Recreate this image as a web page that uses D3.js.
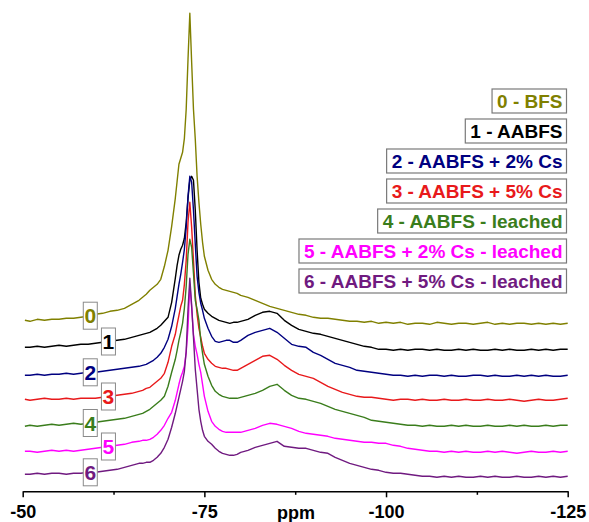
<!DOCTYPE html>
<html>
<head>
<meta charset="utf-8">
<script src="https://cdn.jsdelivr.net/npm/d3@7"></script>
<style>
body { margin: 0; background: #fff; }
text { font-family: "Liberation Sans", Arial, sans-serif; font-weight: bold; }
</style>
</head>
<body>
<script>
var width = 589, height = 522;

// chemical shift grid (ppm), finer around the main peak
var ppm = [-50.3,-51,-52,-53,-54,-55,-56,-57,-58,-59,-60,-61,-62,-63,-64,-65,-66,
  -66.5,-67,-67.5,-68,-68.5,-69,-69.5,-70,-70.5,-71,
  -71.25,-71.5,-71.75,-72,-72.25,-72.5,-72.75,-73,-73.25,-73.5,-73.75,-74,-74.25,-74.5,-74.75,-75,
  -75.5,-76,-76.5,-77,-77.5,-78,-78.5,-79,-79.5,-80,
  -81,-82,-83,-84,-85,-86,-87,-88,-89,-90,-91,-92,-93,-94,-95,-96,-97,-98,-99,-100,
  -101,-102,-103,-104,-105,-106,-107,-108,-109,-110,-111,-112,-113,-114,-115,-116,-117,-118,-119,-120,
  -121,-122,-123,-124,-125];

// intensities (arbitrary units)
var s0 = [4,3,5,4,5,5,6,6,7,8,10,11,13,14,16,20,24,
  27,30,34,37,40,45,58,74,98,126,
  143,160,166,172,186,215,265,311,262,215,185,148,122,100,82,68,
  54,45,40,37,35,34,33,32,31,29,
  27,24,21,18,16,14,12,10,9,7,6,6,5,4,3,3,2,3,1,2,1,2,0,1,1,0,2,1,0,1,1,0,1,2,0,1,0,1,1,0,1,0,1,0,1];
var s1 = [3,3,4,3,4,5,4,5,6,6,7,8,9,10,11,13,15,
  16,17,18,20,22,25,29,33,48,72,
  85,95,101,105,112,128,152,170,174,170,140,100,68,52,46,41,
  37,34,32,30,29,28,27,28,28,29,
  31,35,38,39,37,30,25,21,19,17,16,14,12,10,8,6,4,3,1,1,0,1,0,1,1,0,1,0,0,1,0,1,0,0,1,0,1,0,0,1,0,1,0,1,1];
var s2 = [1,1,2,1,2,2,3,2,3,4,4,5,6,7,8,9,10,
  11,12,14,16,19,23,29,37,50,68,
  80,92,102,114,127,149,180,200,194,166,132,100,84,73,66,58,
  48,40,35,34,35,36,36,34,34,36,
  41,44,46,48,44,38,32,30,29,24,21,17,13,11,9,6,5,4,3,2,1,1,0,1,0,1,1,0,1,0,0,1,1,0,1,0,0,1,0,1,0,1,0,0,1];
var s3 = [1,0,1,2,1,1,2,1,2,2,2,3,4,5,6,7,9,
  10,12,13,16,19,22,27,38,54,66,
  76,85,94,100,116,140,178,198,173,140,105,86,72,63,54,47,
  41,37,34,33,32,32,31,30,30,32,
  36,40,44,45,41,35,30,26,24,22,18,14,11,8,6,4,3,3,2,1,0,1,1,0,1,0,0,1,0,0,1,0,0,1,0,0,1,0,-1,0,1,0,0,1,2];
var s4 = [0,1,0,1,2,1,2,3,2,3,4,5,6,7,8,10,12,
  13,15,17,20,23,26,30,40,54,67,
  76,86,94,103,118,140,172,187,179,153,126,117,106,86,73,62,
  50,41,35,32,30,29,28,28,28,29,
  31,33,36,40,42,36,31,28,27,25,23,20,17,15,13,11,9,6,5,4,3,2,1,1,0,1,0,0,1,0,1,0,0,1,0,0,1,0,1,0,0,1,0,1,1];
var s5 = [1,1,0,1,2,1,2,1,2,3,4,5,6,7,8,10,11,
  12,12,13,15,18,22,27,34,40,52,
  60,68,75,80,86,100,125,168,145,118,106,98,88,80,68,56,
  41,31,26,23,21,20,20,20,20,20,
  22,24,27,29,28,26,24,21,19,18,17,16,14,13,12,11,10,10,9,9,7,6,4,3,2,1,1,0,1,0,1,0,0,1,0,1,0,-1,0,1,0,0,1,0,1];
var s6 = [3,3,4,3,4,4,3,4,4,5,5,6,7,8,10,12,14,
  14,15,15,17,20,24,30,38,50,64,
  72,80,88,96,106,126,168,199,172,140,108,88,68,56,47,41,
  36,33,29,26,24,23,22,22,23,25,
  27,30,32,34,36,31,30,29,29,27,25,24,20,17,14,12,10,8,7,5,4,4,3,2,1,1,0,1,0,1,0,0,1,0,1,0,0,1,0,0,1,0,1,0,1];

var series = [s0, s1, s2, s3, s4, s5, s6];
var names = ["0 - BFS", "1 - AABFS", "2 - AABFS + 2% Cs", "3 - AABFS + 5% Cs",
  "4 - AABFS - leached", "5 - AABFS + 2% Cs - leached", "6 - AABFS + 5% Cs - leached"];
var tags = ["0", "1", "2", "3", "4", "5", "6"];
var colors = ["#808000", "#000000", "#000080", "#e8191b", "#3a7d1c", "#ff00ff", "#701a80"];
var offsets = [167, 141, 115, 91, 65, 39, 14];   // vertical stacking
var tagPpm = [-59.3, -61.8, -59.3, -61.8, -59.3, -61.8, -59.3];

var svg = d3.select("body").append("svg")
    .attr("width", width)
    .attr("height", height);

var x = d3.scaleLinear().domain([-50, -125]).range([22.7, 567.7]);
var y = d3.scaleLinear().domain([0, 480]).range([491.3, 11.3]);

// spectra
series.forEach(function(s, k) {
  var line = d3.line()
      .x(function(d, i) { return x(ppm[i]); })
      .y(function(d) { return y(d + offsets[k]); });
  svg.append("path")
      .datum(s)
      .attr("fill", "none")
      .attr("stroke", colors[k])
      .attr("stroke-width", 1.4)
      .attr("stroke-linejoin", "round")
      .attr("d", line);
});

function valueAt(s, p) {
  for (var i = 0; i < ppm.length - 1; i++) {
    if (p <= ppm[i] && p >= ppm[i + 1]) {
      var t = (ppm[i] - p) / (ppm[i] - ppm[i + 1]);
      return s[i] + t * (s[i + 1] - s[i]);
    }
  }
  return s[0];
}

// number tags sitting on each trace
series.forEach(function(s, k) {
  var cx = x(tagPpm[k]);
  var cy = y(valueAt(s, tagPpm[k]) + offsets[k]);
  var g = svg.append("g");
  g.append("rect")
      .attr("x", cx - 7).attr("y", cy - 13.5)
      .attr("width", 14).attr("height", 27)
      .attr("fill", "#fff")
      .attr("stroke", "#8a8a8a")
      .attr("stroke-width", 1);
  g.append("text")
      .attr("x", cx).attr("y", cy + 7.5)
      .attr("text-anchor", "middle")
      .attr("font-size", 21)
      .attr("fill", colors[k])
      .text(tags[k]);
});

// legend
names.forEach(function(n, k) {
  var top = 89 + k * 30;
  var g = svg.append("g");
  var rect = g.append("rect");
  var t = g.append("text")
      .attr("x", 562.5).attr("y", top + 18.8)
      .attr("text-anchor", "end")
      .attr("font-size", 19)
      .attr("fill", colors[k])
      .text(n);
  var len = t.node().getComputedTextLength();
  rect.attr("x", 562.5 - len - 5).attr("y", top)
      .attr("width", len + 9).attr("height", 24)
      .attr("fill", "#fff")
      .attr("stroke", "#7a7a7a")
      .attr("stroke-width", 1.2);
});

// x axis
var axis = svg.append("g")
    .attr("transform", "translate(0,491.3)")
    .call(d3.axisBottom(x).tickValues([-50, -75, -100, -125])
      .tickFormat(function(d) { return String(d); })
      .tickSize(6).tickSizeOuter(0).tickPadding(8));
axis.select(".domain").attr("stroke-width", 1.5);
axis.selectAll(".tick line").attr("stroke-width", 1.5);
axis.selectAll(".tick text").attr("font-size", 18).attr("font-family", null);

svg.append("g")
    .attr("transform", "translate(0,491.3)")
    .call(d3.axisBottom(x).tickValues([-62.5, -87.5, -112.5]).tickSize(3.5).tickSizeOuter(0).tickFormat(""))
    .call(function(g) { g.select(".domain").remove(); })
    .selectAll(".tick line").attr("stroke-width", 1.5);

svg.append("text")
    .attr("x", 296).attr("y", 518.5)
    .attr("text-anchor", "middle")
    .attr("font-size", 18)
    .text("ppm");
</script>
</body>
</html>
